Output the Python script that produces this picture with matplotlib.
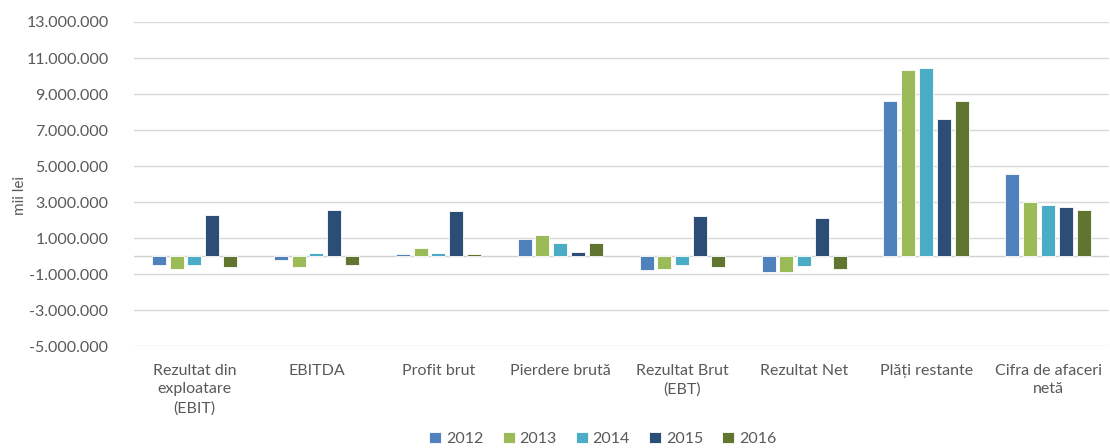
import numpy as np
import matplotlib.pyplot as plt
from matplotlib.ticker import FuncFormatter

plt.rcParams['font.family'] = ['Lato', 'DejaVu Sans']

categories = ["Rezultat din\nexploatare\n(EBIT)", "EBITDA", "Profit brut", "Pierdere brută",
              "Rezultat Brut\n(EBT)", "Rezultat Net", "Plăți restante", "Cifra de afaceri\nnetă"]
years = ["2012", "2013", "2014", "2015", "2016"]
v2012 = [-500000, -200000, 100000, 940000, -800000, -870000, 8600000, 4550000]
v2013 = [-700000, -630000, 450000, 1150000, -700000, -870000, 10320000, 3000000]
v2014 = [-500000, 150000, 150000, 720000, -500000, -570000, 10460000, 2850000]
v2015 = [2280000, 2570000, 2500000, 220000, 2200000, 2130000, 7600000, 2700000]
v2016 = [-620000, -500000, 100000, 720000, -630000, -700000, 8600000, 2570000]
series = [v2012, v2013, v2014, v2015, v2016]
colors = ['#4F81BD', '#9BBB59', '#4BACC6', '#2C4D75', '#5F7530']

fig = plt.figure(figsize=(11.1, 4.48), dpi=100)
ax = fig.add_axes([133.5 / 1110, 102 / 448, (1109 - 133.5) / 1110, 324 / 448])

x = np.arange(len(categories))
w = 0.115
pitch = 0.146
for i, (vals, c, yr) in enumerate(zip(series, colors, years)):
    ax.bar(x + (i - 2) * pitch, vals, w, color=c, edgecolor='white', linewidth=0.6,
           label=yr, zorder=3)

ax.set_xlim(-0.5, len(categories) - 0.5)
ax.set_ylim(-5000000, 13000000)
ax.set_yticks(np.arange(-5000000, 13000001, 2000000))
ax.yaxis.set_major_formatter(FuncFormatter(lambda v, p: f"{int(v):,}".replace(",", ".")))
ax.grid(axis='y', color='#D9D9D9', linewidth=1, zorder=0)
ax.axhline(0, color='#D0D0D0', linewidth=1, zorder=2)
for s in ax.spines.values():
    s.set_visible(False)
ax.tick_params(axis='both', length=0, labelsize=11.5, colors='#595959')
ax.tick_params(axis='y', pad=18)
ax.tick_params(axis='x', pad=13)
ax.set_xticks(x)
ax.set_xticklabels(categories, linespacing=1.4)

fig.text(20 / 1110, 1 - 195 / 448, "mii lei", rotation=90, ha='center', va='center',
         fontsize=11, color='#595959')

fig.legend(loc='center', bbox_to_anchor=(603 / 1110, 1 - 439 / 448), ncol=5, frameon=False,
           fontsize=11.5, labelcolor='#595959', handlelength=0.75, handleheight=0.75,
           handletextpad=0.3, columnspacing=1.2, borderpad=0)

fig.savefig('out.png', dpi=100)
